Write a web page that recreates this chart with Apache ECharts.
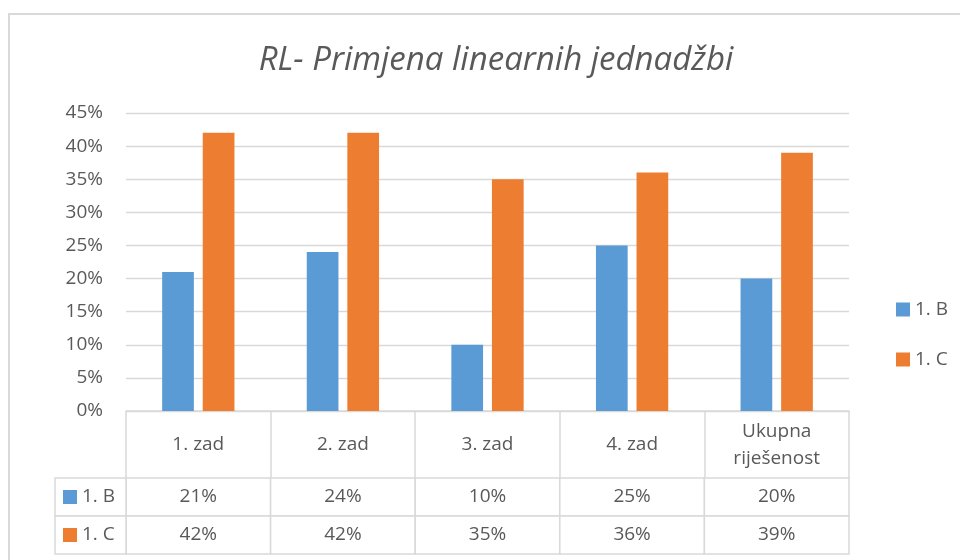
<!DOCTYPE html>
<html>
<head>
<meta charset="utf-8">
<script src="https://cdn.jsdelivr.net/npm/echarts@6/dist/echarts.min.js"></script>
<style>
  html, body { margin: 0; padding: 0; background: #ffffff; }
  #chart { width: 960px; height: 560px; }
</style>
</head>
<body>
<div id="chart"></div>
<script>
// Tasks and per-class solve rates (percent)
const categories = ['1. zad', '2. zad', '3. zad', '4. zad', 'Ukupna\nriješenost'];
const seriesNames = ['1. B', '1. C'];
const values1B = [21, 24, 10, 25, 20];
const values1C = [42, 42, 35, 36, 39];
const yTicks = { min: 0, max: 45, interval: 5 };

const FONT = '"Open Sans", "Liberation Sans", sans-serif';
const TEXT = '#595959';
const LINE = '#d9d9d9';
const COLORS = ['#5b9bd5', '#ed7d31'];
const FS = 19;

const allValues = [values1B, values1C];

// Data-table cells: [column index, row index, value]
const tableCells = [];
allValues.forEach((row, r) => row.forEach((v, c) => tableCells.push([c, r, v])));
// Row-header cells: [0, row index]
const headerCells = seriesNames.map((_, r) => [0, r]);

function cellRect(api) {
  const p = api.coord([api.value(0), api.value(1)]);
  const s = api.size([1, 1]);
  return { x: p[0] - s[0] / 2, y: p[1] - s[1] / 2, width: s[0], height: s[1], cx: p[0], cy: p[1] };
}

const chart = echarts.init(document.getElementById('chart'), null, { renderer: 'canvas' });

chart.setOption({
  backgroundColor: '#ffffff',
  animation: false,
  title: {
    text: 'RL- Primjena linearnih jednadžbi',
    left: 491,
    top: 39,
    textAlign: 'center',
    textStyle: { fontFamily: FONT, fontStyle: 'italic', fontWeight: 'normal', fontSize: 33, color: TEXT }
  },
  legend: {
    data: seriesNames,
    orient: 'vertical',
    left: 891,
    top: 295,
    itemWidth: 14,
    itemHeight: 14,
    itemGap: 31,
    icon: 'rect',
    textStyle: { fontFamily: FONT, fontSize: FS, color: TEXT }
  },
  graphic: [{
    type: 'rect',
    shape: { x: 9, y: 14, width: 1000, height: 600 },
    style: { fill: 'none', stroke: LINE, lineWidth: 2 },
    silent: true
  }],
  grid: [
    { left: 126, right: 111, top: 113, bottom: 149 },
    { left: 126, right: 111, top: 478, height: 76 },
    { left: 55, width: 71, top: 478, height: 76 }
  ],
  xAxis: [
    {
      gridIndex: 0,
      type: 'category',
      data: categories,
      axisLine: { show: true, lineStyle: { color: LINE, width: 1.5 } },
      axisTick: { show: true, length: 67, lineStyle: { color: LINE, width: 1.5 } },
      axisLabel: {
        margin: 34,
        verticalAlign: 'middle',
        lineHeight: 27,
        fontFamily: FONT,
        fontSize: FS,
        color: TEXT,
        interval: 0
      }
    },
    { gridIndex: 1, type: 'category', data: categories, show: false },
    { gridIndex: 2, type: 'category', data: [''], show: false }
  ],
  yAxis: [
    {
      gridIndex: 0,
      type: 'value',
      min: yTicks.min,
      max: yTicks.max,
      interval: yTicks.interval,
      axisLine: { show: false },
      axisTick: { show: false },
      splitLine: { lineStyle: { color: LINE, width: 1.3 } },
      axisLabel: {
        margin: 23,
        formatter: '{value}%',
        fontFamily: FONT,
        fontSize: FS,
        color: TEXT
      }
    },
    { gridIndex: 1, type: 'category', data: seriesNames, inverse: true, show: false },
    { gridIndex: 2, type: 'category', data: seriesNames, inverse: true, show: false }
  ],
  series: [
    {
      name: seriesNames[0],
      type: 'bar',
      data: values1B,
      itemStyle: { color: COLORS[0] },
      barCategoryGap: '50%',
      barGap: '28%'
    },
    {
      name: seriesNames[1],
      type: 'bar',
      data: values1C,
      itemStyle: { color: COLORS[1] },
      barCategoryGap: '50%',
      barGap: '28%'
    },
    {
      name: 'table values',
      type: 'custom',
      xAxisIndex: 1,
      yAxisIndex: 1,
      data: tableCells,
      silent: true,
      renderItem: function (params, api) {
        const r = cellRect(api);
        return {
          type: 'group',
          children: [
            {
              type: 'rect',
              shape: { x: r.x, y: r.y, width: r.width, height: r.height },
              style: { fill: '#ffffff', stroke: LINE, lineWidth: 1.5 }
            },
            {
              type: 'text',
              style: {
                x: r.cx, y: r.cy, text: api.value(2) + '%',
                align: 'center', verticalAlign: 'middle',
                font: FS + 'px ' + FONT, fill: TEXT
              }
            }
          ]
        };
      }
    },
    {
      name: 'table row headers',
      type: 'custom',
      xAxisIndex: 2,
      yAxisIndex: 2,
      data: headerCells,
      silent: true,
      renderItem: function (params, api) {
        const r = cellRect(api);
        const row = api.value(1);
        return {
          type: 'group',
          children: [
            {
              type: 'rect',
              shape: { x: r.x, y: r.y, width: r.width, height: r.height },
              style: { fill: '#ffffff', stroke: LINE, lineWidth: 1.5 }
            },
            {
              type: 'rect',
              shape: { x: r.x + 8, y: r.cy - 7, width: 14, height: 14 },
              style: { fill: COLORS[row] }
            },
            {
              type: 'text',
              style: {
                x: r.x + 27, y: r.cy, text: seriesNames[row],
                align: 'left', verticalAlign: 'middle',
                font: FS + 'px ' + FONT, fill: TEXT
              }
            }
          ]
        };
      }
    }
  ]
});
</script>
</body>
</html>
